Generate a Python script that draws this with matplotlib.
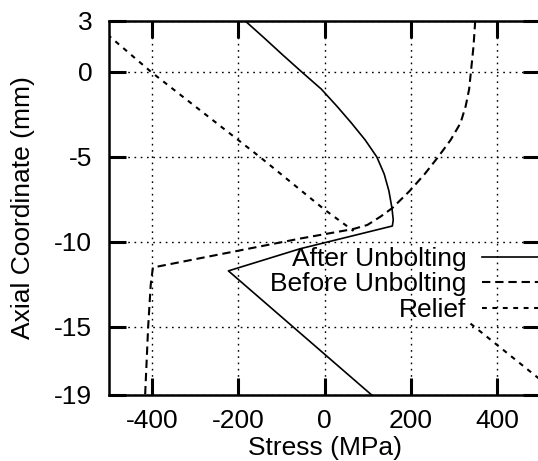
import matplotlib
matplotlib.use("Agg")
import matplotlib.pyplot as plt

nan = float('nan')

# values (stress in MPa, axial coordinate in mm)
after_x = [-184, -140, -97, -53, -8, 28, 62, 94, 121, 138, 149, 156, 159, 157, -57, -223, 109]
after_y = [3, 2, 1, 0, -1, -2, -3, -4, -5, -6, -7, -8, -8.7, -9.06, -10.4, -11.7, -19]

before_x = [349, 345, 339, 335, 327, 315, 292, 263, 232, 197, 157, 130, 99, 66,
            -57, -398, -403, -409, -416]
before_y = [3, 1.5, 0, -1, -2, -3, -4, -5, -6, -7, -8, -8.5, -9.0, -9.24,
            -9.8, -11.5, -12.5, -15, -19]

# relief curve is not drawn behind the key in the original
relief_x = [-540, -402, -150, 0, 67, nan, 338, 495, 533]
relief_y = [3, 0, -5, -8.1, -9.35, nan, -14.8, -18.0, -19]

xticks = [-400, -200, 0, 200, 400]
yticks = [3, 0, -5, -10, -15, -19]

plt.rcParams['font.family'] = ['Liberation Sans', 'DejaVu Sans']
plt.rcParams['lines.scale_dashes'] = False
plt.rcParams['axes.unicode_minus'] = False

fig = plt.figure(figsize=(5.38, 4.61), dpi=100)
ax = fig.add_axes([0.2024, 0.1432, 0.802, 0.8113])

ax.plot(after_x, after_y, color='black', lw=1.2, ls='-', label='After Unbolting')
ax.plot(before_x, before_y, color='black', lw=1.5, ls=(0, (6, 3.5)), label='Before Unbolting')
ax.plot(relief_x, relief_y, color='black', lw=1.5, ls=(0, (3.5, 4)), label='Relief')

ax.set_xlim(-500, 500)
ax.set_ylim(-19, 3)
ax.set_xticks(xticks)
ax.set_yticks(yticks)
ax.grid(True, color='black', lw=1.0, ls=(0, (1.2, 3.3)))

ax.tick_params(direction='in', top=True, right=True, length=12, width=2.2,
               labelsize=19, pad=10)
ax.tick_params(axis='y', pad=12)
for s in ax.spines.values():
    s.set_linewidth(1.8)

ax.set_xlabel('Stress (MPa)', fontsize=19)
ax.set_ylabel('Axial Coordinate (mm)', fontsize=19)
ax.xaxis.set_label_coords(0.5, -0.111)
ax.yaxis.set_label_coords(-0.172, 0.5)

ax.legend(loc='upper right', bbox_to_anchor=(1.0, 0.396), frameon=False,
          markerfirst=False, fontsize=19, borderpad=0, borderaxespad=0,
          handlelength=2.2, handletextpad=0.6, labelspacing=0.06)

fig.savefig('out.png', dpi=100)
